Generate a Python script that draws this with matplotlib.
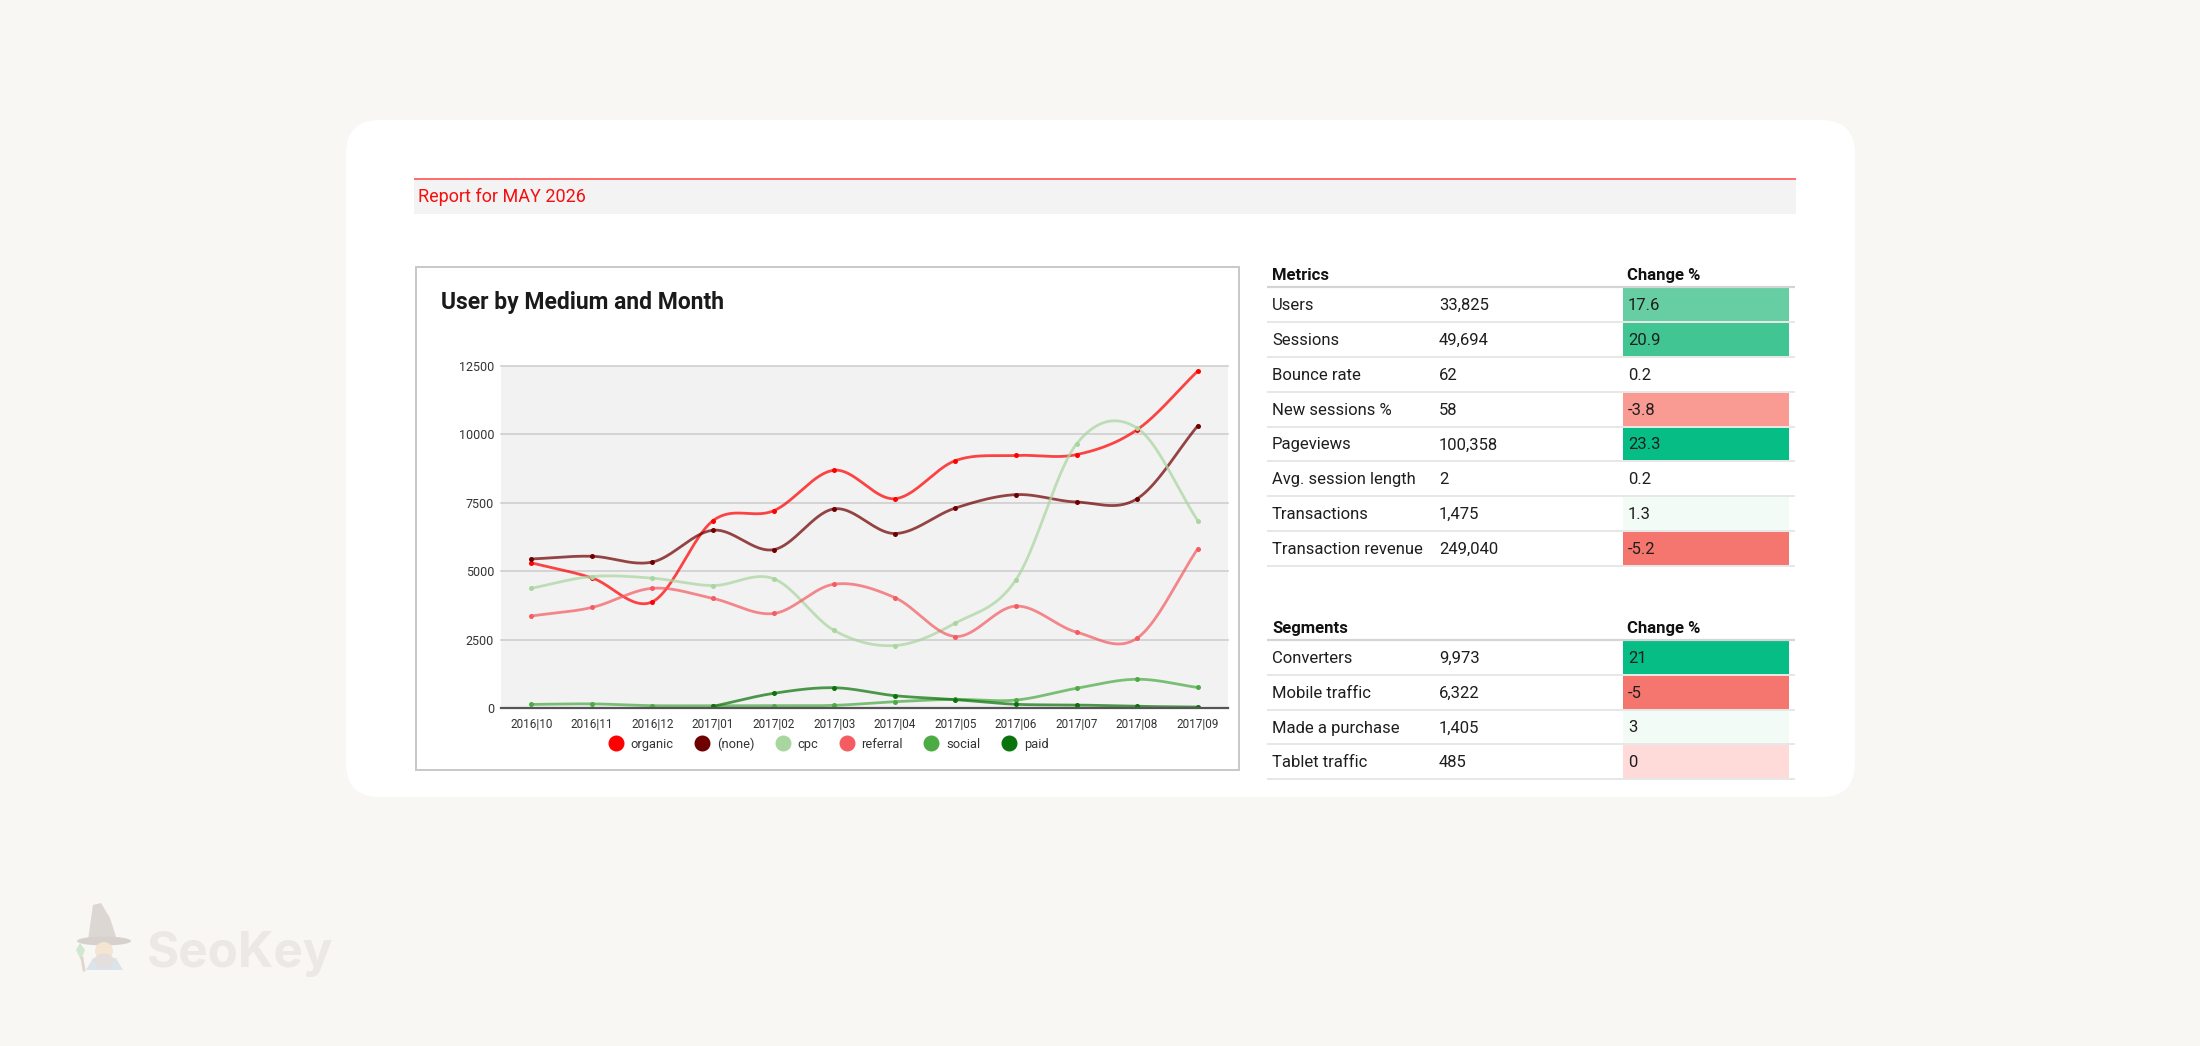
import numpy as np
import matplotlib
matplotlib.use('Agg')
import matplotlib.pyplot as plt
from matplotlib.patches import FancyBboxPatch, Rectangle, Polygon, Ellipse, Circle
from matplotlib.lines import Line2D

# ---------------- data ----------------
months = ['2016|10', '2016|11', '2016|12', '2017|01', '2017|02', '2017|03',
          '2017|04', '2017|05', '2017|06', '2017|07', '2017|08', '2017|09']
organic = [5300, 4750, 3880, 6840, 7200, 8680, 7640, 9030, 9220, 9250, 10160, 12300]
none_medium = [5440, 5540, 5330, 6490, 5780, 7270, 6370, 7300, 7790, 7520, 7640, 10300]
cpc = [4370, 4800, 4740, 4470, 4720, 2830, 2280, 3100, 4680, 9640, 10220, 6840]
referral = [3360, 3670, 4370, 4000, 3450, 4520, 4030, 2610, 3720, 2770, 2550, 5810]
social = [130, 150, 85, 85, 85, 97, 230, 315, 290, 720, 1050, 750]
paid = [np.nan, np.nan, np.nan, 60, 535, 740, 450, 305, 135, 110, 60, 35]

series_names = ['organic', '(none)', 'cpc', 'referral', 'social', 'paid']
series_values = [organic, none_medium, cpc, referral, social, paid]
series_colors = ['#ff0000', '#6e0000', '#a9d69f', '#f45c62', '#4cab45', '#0b730b']
y_ticks = [0, 2500, 5000, 7500, 10000, 12500]

metric_names = ['Users', 'Sessions', 'Bounce rate', 'New sessions %', 'Pageviews',
                'Avg. session length', 'Transactions', 'Transaction revenue']
metric_values = ['33,825', '49,694', '62', '58', '100,358', '2', '1,475', '249,040']
metric_change = ['17.6', '20.9', '0.2', '-3.8', '23.3', '0.2', '1.3', '-5.2']
metric_colors = ['#66cea2', '#40c593', None, '#f99b93', '#06bd85', None, '#f2fbf6', '#f5756f']

segment_names = ['Converters', 'Mobile traffic', 'Made a purchase', 'Tablet traffic']
segment_values = ['9,973', '6,322', '1,405', '485']
segment_change = ['21', '-5', '3', '0']
segment_colors = ['#06bd85', '#f5756f', '#f2fbf6', '#fedad8']

W, H = 2200, 1046
FONT = ['Roboto', 'DejaVu Sans']
plt.rcParams['font.family'] = FONT

fig = plt.figure(figsize=(W / 100, H / 100), dpi=100)
fig.patch.set_facecolor('#f8f7f4')

# background axes in pixel coordinates (y downward)
bg = fig.add_axes([0, 0, 1, 1])
bg.set_xlim(0, W)
bg.set_ylim(H, 0)
bg.axis('off')

# white card
bg.add_patch(FancyBboxPatch((346, 120), 1855 - 346, 797 - 120,
                            boxstyle='round,pad=0,rounding_size=34',
                            facecolor='white', edgecolor='none'))
# header band
bg.add_patch(Rectangle((414, 179), 1796 - 414, 214 - 179, facecolor='#f3f3f3', edgecolor='none'))
bg.plot([414, 1796], [179, 179], color='#ff6b6b', lw=1.4, solid_capstyle='butt')
bg.text(418, 197, 'Report for MAY 2026', color='#f50f0f', fontsize=13, va='center', ha='left')

# chart box
bg.add_patch(Rectangle((415.5, 267), 1238.5 - 415.5, 770 - 267, facecolor='white',
                       edgecolor='#c8c8c8', lw=1.4))
bg.text(441, 303, 'User by Medium and Month', color='#1a1a1a', fontsize=16.5,
        fontweight='bold', va='center', ha='left')

# ---------------- tables ----------------
def draw_table(title, top_line, names, values, changes, colors):
    row_h = 34.8
    bg.text(1272, top_line - 12, title, fontsize=12, fontweight='bold', color='#111111',
            va='center', ha='left')
    bg.text(1627, top_line - 12, 'Change %', fontsize=12, fontweight='bold', color='#111111',
            va='center', ha='left')
    bg.plot([1267, 1795], [top_line, top_line], color='#d4d4d4', lw=1.6, solid_capstyle='butt')
    for i, (n, v, c, col) in enumerate(zip(names, values, changes, colors)):
        y0 = top_line + i * row_h
        y1 = y0 + row_h
        if col is not None:
            bg.add_patch(Rectangle((1623, y0 + 1), 1789 - 1623, row_h - 2,
                                   facecolor=col, edgecolor='none'))
        yc = (y0 + y1) / 2 + 1
        bg.text(1272, yc, n, fontsize=12, color='#1e1e1e', va='center', ha='left')
        bg.text(1439, yc, v, fontsize=12, color='#1e1e1e', va='center', ha='left')
        bg.text(1628, yc, c, fontsize=12, color='#1e1e1e', va='center', ha='left')
        bg.plot([1267, 1795], [y1, y1], color='#e3e3e3', lw=1.2, solid_capstyle='butt')

draw_table('Metrics', 287.3, metric_names, metric_values, metric_change, metric_colors)
draw_table('Segments', 640, segment_names, segment_values, segment_change, segment_colors)

# ---------------- logo ----------------
bg.add_patch(Polygon([(93, 905), (101, 903), (110, 918), (117, 940), (88, 940)],
                     closed=True, facecolor='#dcd7d3', edgecolor='none'))
bg.add_patch(Ellipse((104, 941), 54, 9, facecolor='#d6d1cd', edgecolor='none'))
bg.add_patch(Polygon([(86, 970), (93, 958), (116, 958), (123, 970)], closed=True,
                     facecolor='#dbe4ec', edgecolor='none'))
bg.add_patch(Circle((104, 951), 9, facecolor='#f4e4d2', edgecolor='none'))
bg.add_patch(Ellipse((104, 961), 20, 15, facecolor='#e2dfdc', edgecolor='none'))
bg.add_patch(Polygon([(76, 950), (80, 943), (85, 950), (81, 960)], closed=True,
                     facecolor='#cfe8cf', edgecolor='none'))
bg.plot([82, 84], [958, 970], color='#e0d6cc', lw=2)
bg.text(147, 967, 'SeoKey', fontsize=35.5, fontweight='bold', color='#ebe8e5',
        va='baseline', ha='left', family=['Inter', 'Roboto', 'DejaVu Sans'])

# ---------------- line chart ----------------
px0, px1, py0, py1 = 501, 1228, 365.6, 708
ax = fig.add_axes([px0 / W, 1 - py1 / H, (px1 - px0) / W, (py1 - py0) / H])
ax.set_facecolor('#f2f2f2')
x = np.arange(len(months))


def smooth_curve(xs, ys, n=40):
    xs = np.asarray(xs, float)
    ys = np.asarray(ys, float)
    ok = ~np.isnan(ys)
    xs, ys = xs[ok], ys[ok]
    k = len(ys)
    m = np.zeros(k)
    for i in range(k):
        if i == 0:
            m[i] = ys[1] - ys[0]
        elif i == k - 1:
            m[i] = ys[-1] - ys[-2]
        else:
            m[i] = (ys[i + 1] - ys[i - 1]) / 2
    ox, oy = [], []
    t = np.linspace(0, 1, n)
    h00 = 2 * t**3 - 3 * t**2 + 1
    h10 = t**3 - 2 * t**2 + t
    h01 = -2 * t**3 + 3 * t**2
    h11 = t**3 - t**2
    for i in range(k - 1):
        ox.append(xs[i] + t * (xs[i + 1] - xs[i]))
        oy.append(h00 * ys[i] + h10 * m[i] + h01 * ys[i + 1] + h11 * m[i + 1])
    return np.concatenate(ox), np.concatenate(oy)


for name, vals, col in zip(series_names, series_values, series_colors):
    sx, sy = smooth_curve(x, vals)
    ax.plot(sx, sy, color=col, lw=2.0, alpha=0.72, zorder=3, solid_capstyle='round')
    ax.plot(x, vals, 'o', color=col, ms=3.6, zorder=4, markeredgewidth=0)

ax.set_xlim(-0.5, len(months) - 0.5)
ax.set_ylim(0, 12500)
ax.set_yticks(y_ticks)
ax.set_yticklabels([str(v) for v in y_ticks])
ax.set_xticks(x)
ax.set_xticklabels(months)
for yv in y_ticks[1:]:
    ax.axhline(yv, color='#cfcfcf', lw=1.2, zorder=1, clip_on=False)
for s in ['top', 'left', 'right']:
    ax.spines[s].set_visible(False)
ax.spines['bottom'].set_color('#555555')
ax.spines['bottom'].set_linewidth(1.6)
ax.spines['bottom'].set_zorder(5)
ax.tick_params(axis='both', length=0, labelsize=9, labelcolor='#333333')
ax.tick_params(axis='y', pad=5)
ax.tick_params(axis='x', pad=7, labelsize=8.5)

handles = [Line2D([], [], marker='o', ls='none', color=c, ms=10.5) for c in series_colors]
fig.legend(handles, series_names, loc='center', bbox_to_anchor=(829 / W, 1 - 744 / H),
           ncol=6, frameon=False, fontsize=9.3, handlelength=0.9, handletextpad=0.7,
           columnspacing=1.75, labelcolor='#333333')

fig.savefig('out.png', dpi=100, facecolor=fig.get_facecolor())
